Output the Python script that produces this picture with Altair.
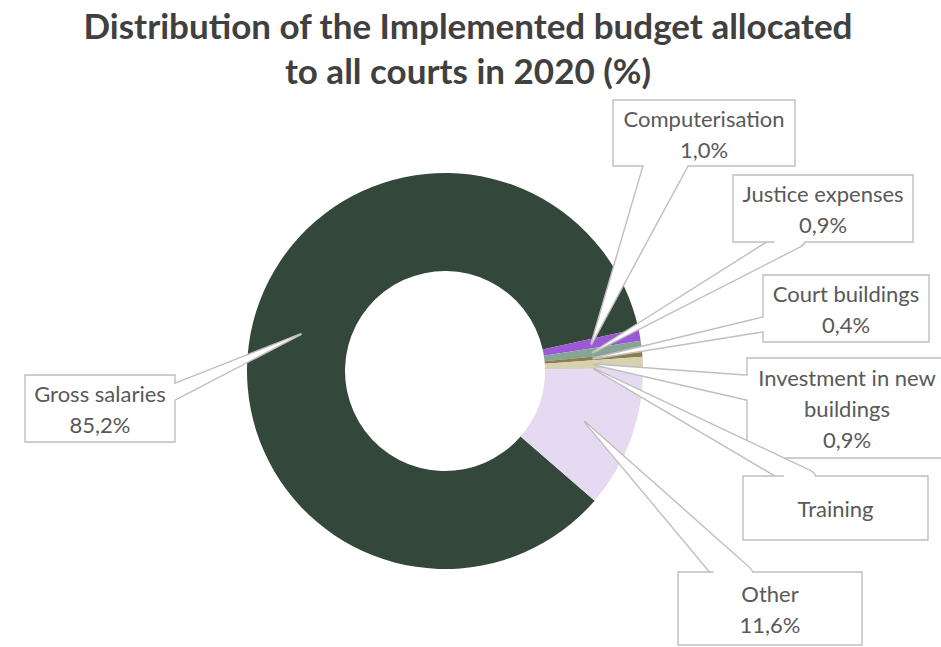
import math
import textwrap
import altair as alt
import pandas as pd

# ---------------- data ----------------
categories = ["Gross salaries", "Computerisation", "Justice expenses", "Court buildings",
              "Investment in new buildings", "Training", "Other"]
shares = [85.2, 1.0, 0.9, 0.4, 0.9, 0.0, 11.6]
colors = ["#34473B", "#9B59D6", "#86A595", "#8A7F45", "#D6D1B0", "#C9B99A", "#E6D9F2"]
title_lines = ["Distribution of the Implemented budget allocated", "to all courts in 2020 (%)"]

# ---------------- layout ----------------
W, H = 941, 647
CX, CY = 445, 371
R_OUT, R_IN = 198, 100
R_TIP = (R_OUT + R_IN) / 2
START_DEG = 130.9
GRAY = "#BFBFBF"
TXT = "#595959"
LH = 31
# callout boxes: x0, y0, x1, y1, side of wedge, wedge base start/end along that side
boxes = {
    "Gross salaries": (25, 375, 175, 442, "right", 383, 400),
    "Computerisation": (613, 100, 795, 166, "bottom", 642, 687),
    "Justice expenses": (733, 175, 913, 242, "bottom", 765, 808),
    "Court buildings": (763, 275, 929, 342, "left", 317, 332),
    "Investment in new buildings": (747, 358, 947, 458, "left", 375, 400),
    "Training": (743, 476, 928, 540, "top", 773, 820),
    "Other": (678, 572, 862, 645, "top", 708, 753),
}

xs = alt.Scale(domain=[0, W], nice=False, zero=False)
ys = alt.Scale(domain=[0, H], nice=False, zero=False, reverse=True)

def X(f):
    return alt.X(f, type="quantitative", scale=xs, axis=None)

def Y(f):
    return alt.Y(f, type="quantitative", scale=ys, axis=None)

pie = pd.DataFrame({"cat": categories, "share": shares, "idx": range(len(categories))})
s0 = math.radians(START_DEG)
arc = alt.Chart(pie).mark_arc(radius=R_OUT, radius2=R_IN).encode(
    theta=alt.Theta("share:Q", stack=True, scale=alt.Scale(range=[s0, s0 + 2 * math.pi])),
    order=alt.Order("idx:Q"),
    color=alt.Color("cat:N", scale=alt.Scale(domain=categories, range=colors), legend=None),
    x=alt.value(CX), y=alt.value(CY),
)

layers = [arc]
total = sum(shares)
cum = 0.0
for cat, v in zip(categories, shares):
    a0 = START_DEG + cum / total * 360
    a1 = a0 + v / total * 360
    cum += v
    mid = math.radians((a0 + a1) / 2)
    tx, ty = CX + R_TIP * math.sin(mid), CY - R_TIP * math.cos(mid)

    x0, y0, x1, y1, side, e1, e2 = boxes[cat]
    if side == "right":
        m, n = (x1, (e1 + e2) / 2), (1, 0)
    elif side == "left":
        m, n = (x0, (e1 + e2) / 2), (-1, 0)
    elif side == "bottom":
        m, n = ((e1 + e2) / 2, y1), (0, 1)
    else:
        m, n = ((e1 + e2) / 2, y0), (0, -1)
    dx, dy = tx - m[0], ty - m[1]
    L = math.hypot(dx, dy)
    ux, uy = dx / L, dy / L
    wp = abs(e2 - e1) * abs(ux * n[0] + uy * n[1])
    inset = 10
    bx, by = m[0] - ux * inset, m[1] - uy * inset
    wb = wp * (L + inset) / L
    wedge = pd.DataFrame({"x": [bx, tx], "y": [by, ty], "w": [wb, 0.0], "k": [0, 1]})
    px, py = m[0] + ux * 3, m[1] + uy * 3
    patch = pd.DataFrame({"x": [bx, px], "y": [by, py],
                          "w": [wb - 1.6, wp * (L - 3) / L - 1.6], "k": [0, 1]})
    box = pd.DataFrame({"x0": [x0], "x1": [x1], "y0": [y0], "y1": [y1]})
    lines = textwrap.wrap(cat, 17)
    if v > 0:
        lines.append(f"{v:.1f}".replace(".", ",") + "%")
    nl = len(lines)
    cyb = (y0 + y1) / 2 + 2
    txt = pd.DataFrame({"x": [(x0 + x1) / 2] * nl,
                        "y": [cyb + (i - (nl - 1) / 2) * LH for i in range(nl)],
                        "t": lines})

    layers.append(alt.Chart(wedge).mark_trail(fill="white", stroke=GRAY, strokeWidth=1.4).encode(
        x=X("x"), y=Y("y"), size=alt.Size("w:Q", scale=None, legend=None), order=alt.Order("k:Q")))
    layers.append(alt.Chart(box).mark_rect(fill="white", stroke=GRAY, strokeWidth=1.4).encode(
        x=X("x0"), x2="x1", y=Y("y0"), y2="y1"))
    layers.append(alt.Chart(patch).mark_trail(fill="white", strokeWidth=0).encode(
        x=X("x"), y=Y("y"), size=alt.Size("w:Q", scale=None, legend=None), order=alt.Order("k:Q")))
    layers.append(alt.Chart(txt).mark_text(font="Lato", fontSize=22, color=TXT,
                                           align="center", baseline="middle").encode(
        x=X("x"), y=Y("y"), text="t:N"))

tdf = pd.DataFrame({"x": [468, 468], "y": [28, 73], "t": title_lines})
layers.append(alt.Chart(tdf).mark_text(font="Lato", fontSize=35, fontWeight="bold", color="#404040",
                                       align="center", baseline="middle").encode(
    x=X("x"), y=Y("y"), text="t:N"))

chart = alt.layer(*layers).properties(
    width=W, height=H, autosize=alt.AutoSizeParams(type="none"), padding=0,
    background="white",
).configure_view(stroke=None)

chart.save("out.html", embed_options={"renderer": "svg", "actions": False})
